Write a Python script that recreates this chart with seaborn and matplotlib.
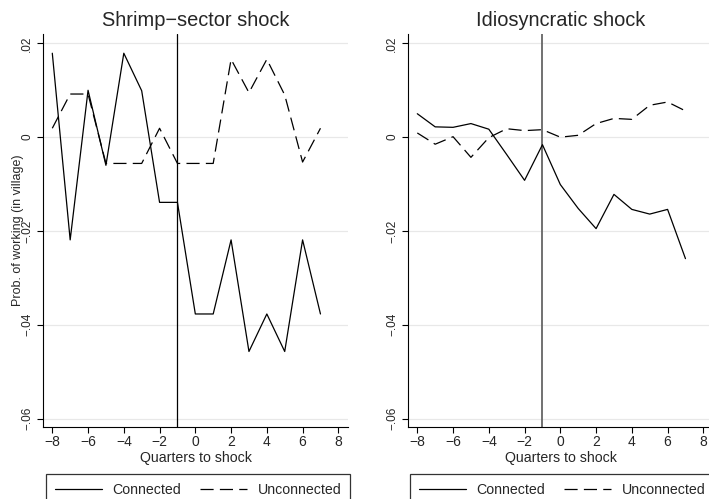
import matplotlib
matplotlib.use("Agg")
import matplotlib.pyplot as plt
import seaborn as sns
import pandas as pd
from matplotlib.lines import Line2D

# ---------------- data ----------------
quarters = list(range(-8, 8))
shrimp_connected = [0.0179, -0.0219, 0.0100, -0.0060, 0.0179, 0.0099, -0.0139, -0.0139,
                    -0.0377, -0.0377, -0.0219, -0.0457, -0.0377, -0.0457, -0.0219, -0.0377]
shrimp_unconnected = [0.0019, 0.0092, 0.0092, -0.0056, -0.0056, -0.0056, 0.0019, -0.0056,
                      -0.0056, -0.0056, 0.0166, 0.0095, 0.0166, 0.0090, -0.0053, 0.0019]
idio_connected = [0.0050, 0.0022, 0.0021, 0.0029, 0.0017, -0.0037, -0.0092, -0.0016,
                  -0.0101, -0.0152, -0.0195, -0.0122, -0.0154, -0.0164, -0.0154, -0.0259]
idio_unconnected = [0.0009, -0.0015, 0.0001, -0.0043, -0.0001, 0.0018, 0.0014, 0.0016,
                    0.0000, 0.0004, 0.0029, 0.0040, 0.0038, 0.0068, 0.0075, 0.0056]
panel_titles = ["Shrimp\u2212sector shock", "Idiosyncratic shock"]
series_labels = ["Connected", "Unconnected"]
ytick_values = [0.02, 0.0, -0.02, -0.04, -0.06]
ytick_labels = [".02", "0", "\u2212.02", "\u2212.04", "\u2212.06"]
xtick_values = [-8, -6, -4, -2, 0, 2, 4, 6, 8]
shock_quarter = -1
xlabel = "Quarters to shock"
ylabel = "Prob. of working (in village)"

# ---------------- style ----------------
sns.set_style("white")
plt.rcParams["font.family"] = ["Liberation Sans", "DejaVu Sans"]

W, H = 709, 499
fig = plt.figure(figsize=(W / 100, H / 100), dpi=100)

def px_axes(x0, x1, y_top, y_bot):
    return fig.add_axes([x0 / W, 1 - y_bot / H, (x1 - x0) / W, (y_bot - y_top) / H])

ax_left = px_axes(43, 348, 34, 427)
ax_right = px_axes(408, 713, 34, 427)

dash_style = (0, (10.5, 5.0))
panels = [
    (ax_left, shrimp_connected, shrimp_unconnected, "black"),
    (ax_right, idio_connected, idio_unconnected, "#666666"),
]

for i, (ax, conn, unconn, vcol) in enumerate(panels):
    df = pd.DataFrame({"q": quarters, "conn": conn, "unconn": unconn})
    for yv in ytick_values:
        ax.axhline(yv, color="#e8e8e8", lw=0.9, zorder=0)
    sns.lineplot(data=df, x="q", y="conn", ax=ax, color="black", lw=0.9,
                 estimator=None, zorder=3)
    sns.lineplot(data=df, x="q", y="unconn", ax=ax, color="black", lw=0.9,
                 estimator=None, zorder=3, linestyle=dash_style)
    ax.axvline(shock_quarter, color=vcol, lw=0.9 if i == 0 else 1.3, zorder=2)
    ax.set_xlim(-8.52, 8.54)
    ax.set_ylim(-0.0618, 0.022)
    ax.set_xticks(xtick_values)
    ax.set_yticks(ytick_values)
    ax.set_yticklabels(ytick_labels, rotation=90, va="center")
    ax.tick_params(axis="x", length=4, width=0.8, pad=2, labelsize=10, direction="out",
                   bottom=True, color="black")
    ax.tick_params(axis="y", length=4, width=0.8, pad=3, labelsize=8.5, direction="out",
                   left=True, color="black")
    for s in ["top", "right"]:
        ax.spines[s].set_visible(False)
    for s in ["left", "bottom"]:
        ax.spines[s].set_color("black")
        ax.spines[s].set_linewidth(0.8)
    ax.set_title(panel_titles[i], fontsize=14.4, pad=6)
    ax.set_xlabel(xlabel, fontsize=10.2, labelpad=1)
    ax.set_ylabel(ylabel if i == 0 else "", fontsize=9)
    ax.set_facecolor("white")

    handles = [Line2D([], [], color="black", lw=0.9),
               Line2D([], [], color="black", lw=0.9, linestyle=dash_style)]
    x_anchor = 46 if i == 0 else 410
    leg = fig.legend(handles, series_labels, loc="upper left",
                     bbox_to_anchor=(x_anchor / W, 1 - 474 / H),
                     ncol=2, fontsize=10.2, frameon=True, fancybox=False,
                     handlelength=3.35, handletextpad=0.75, columnspacing=1.3,
                     borderpad=0.6, borderaxespad=0)
    leg.get_frame().set_edgecolor("black")
    leg.get_frame().set_linewidth(0.9)

ax_left.yaxis.set_label_coords(-0.062, 0.5)

fig.savefig("out.png", dpi=100, facecolor="white")
